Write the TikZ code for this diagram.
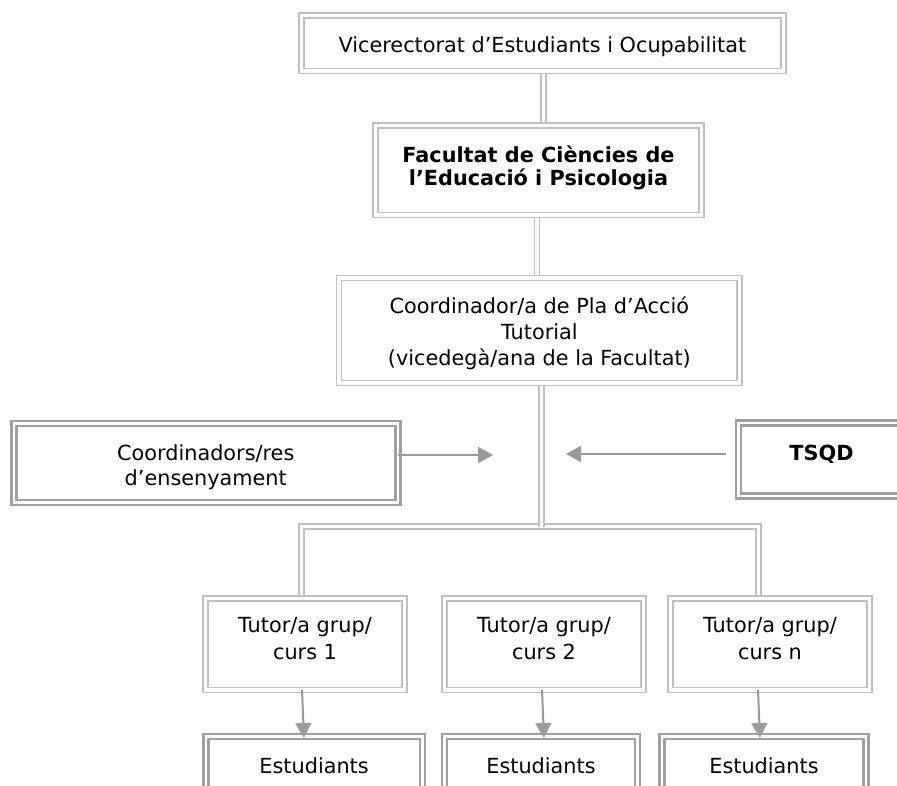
\documentclass[tikz,border=0pt]{standalone}
\usepackage{fontspec}
\setmainfont{DejaVu Sans}
\usetikzlibrary{arrows.meta,backgrounds}
\definecolor{lgray}{HTML}{C0C0C0}
\definecolor{dgray}{HTML}{A0A0A0}
\definecolor{agray}{HTML}{9A9A9A}
\newcommand\hstrut[1]{\rule{0pt}{#1}}
\newcommand\dstrut[1]{\rule[-#1]{0pt}{0pt}}
\begin{document}
\begin{tikzpicture}[x=1pt,y=-1pt,
  lbox/.style={draw=lgray, double=white, double distance=3.5pt, line width=1.7pt,
    fill=white, inner sep=0pt, outer sep=0pt, align=center,
    font=\fontsize{20.8}{25.5}\selectfont},
  dbox/.style={lbox, draw=dgray, line width=2.6pt, double distance=2.4pt},
  conn/.style={draw=lgray, double=white, double distance=3.2pt, line width=1.7pt},
  arr/.style={draw=agray, fill=agray, line width=2pt, -{Triangle[length=15pt,width=16pt]}},
]
\useasboundingbox (0,0) rectangle (897,785);
\clip (0,0) rectangle (897,785);

% boxes
\node[lbox, minimum width=481.8pt, minimum height=55.5pt] (vice) at (542.4,43.25)
  {\hstrut{22pt}Vicerectorat d’Estudiants i Ocupabilitat};
\node[lbox, minimum width=326pt, minimum height=89.5pt,
  font=\fontsize{20.8}{23.5}\selectfont\bfseries] (fac) at (538.5,170.25)
  {Facultat de Ciències de\\l’Educació i Psicologia\dstrut{9.4pt}};
\node[lbox, minimum width=400.7pt, minimum height=105pt,
  font=\fontsize{20.8}{26}\selectfont] (coord) at (539.35,330.5)
  {\hstrut{21.8pt}Coordinador/a de Pla d’Acció\\Tutorial\\(vicedegà/ana de la Facultat)};
\node[dbox, minimum width=383.9pt, minimum height=79pt,
  font=\fontsize{20.8}{25}\selectfont] (coords) at (205.75,463)
  {\hstrut{23.8pt}Coordinadors/res\\d’ensenyament};
\node[dbox, minimum width=166.4pt, minimum height=73.2pt,
  font=\fontsize{20.8}{25}\selectfont\bfseries] (tsqd) at (821.5,459.6)
  {TSQD\dstrut{14.2pt}};

\node[lbox, minimum width=199pt, minimum height=91.5pt,
  font=\fontsize{20.8}{26.5}\selectfont] (t1) at (305,644.25)
  {Tutor/a grup/\\curs 1\dstrut{11.6pt}};
\node[lbox, minimum width=199pt, minimum height=91.5pt,
  font=\fontsize{20.8}{26.5}\selectfont] (t2) at (544,644.25)
  {Tutor/a grup/\\curs 2\dstrut{11.6pt}};
\node[lbox, minimum width=199pt, minimum height=91.5pt,
  font=\fontsize{20.8}{26.5}\selectfont] (tn) at (770,644.25)
  {Tutor/a grup/\\curs n\dstrut{11.6pt}};

\node[dbox, minimum width=216.8pt, minimum height=58pt] (es1) at (314.1,765.3) {Estudiants};
\node[dbox, minimum width=193pt, minimum height=58pt] (es2) at (541,765.3) {Estudiants};
\node[dbox, minimum width=204pt, minimum height=58pt] (es3) at (764,765.3) {Estudiants};

% connector helper coordinates
\coordinate (k1) at (543.5,0);
\coordinate (k2) at (537,0);
\coordinate (k3) at (541.5,526.5);
\coordinate (hl) at (301.5,526.5);
\coordinate (hr) at (758.5,526.5);

\begin{pgfonlayer}{background}
  \fill[white] (0,0) rectangle (897,785);
  \draw[conn] (vice.south -| k1) -- (fac.north -| k1);
  \draw[conn] (fac.south -| k2) -- (coord.north -| k2);
  \draw[conn] (t1.north -| hl) -- (hl) -- (hr) -- (tn.north -| hr);
  \draw[conn] (coord.south -| k3) -- (k3);
\end{pgfonlayer}

% arrows
\coordinate (la) at (493,455);
\coordinate (ra) at (566,454);
\draw[arr] (coords.east |- la) -- (la);
\draw[arr, shorten <=12.3pt] (tsqd.west |- ra) -- (ra);

\draw[arr] ([xshift=-3pt]t1.south) -- ([xshift=-10.1pt,yshift=-1.7pt]es1.north);
\draw[arr] ([xshift=-2pt]t2.south) -- ([xshift=3pt,yshift=-1.7pt]es2.north);
\draw[arr] ([xshift=-12pt]tn.south) -- ([xshift=-4pt,yshift=-1.7pt]es3.north);
\end{tikzpicture}
\end{document}
